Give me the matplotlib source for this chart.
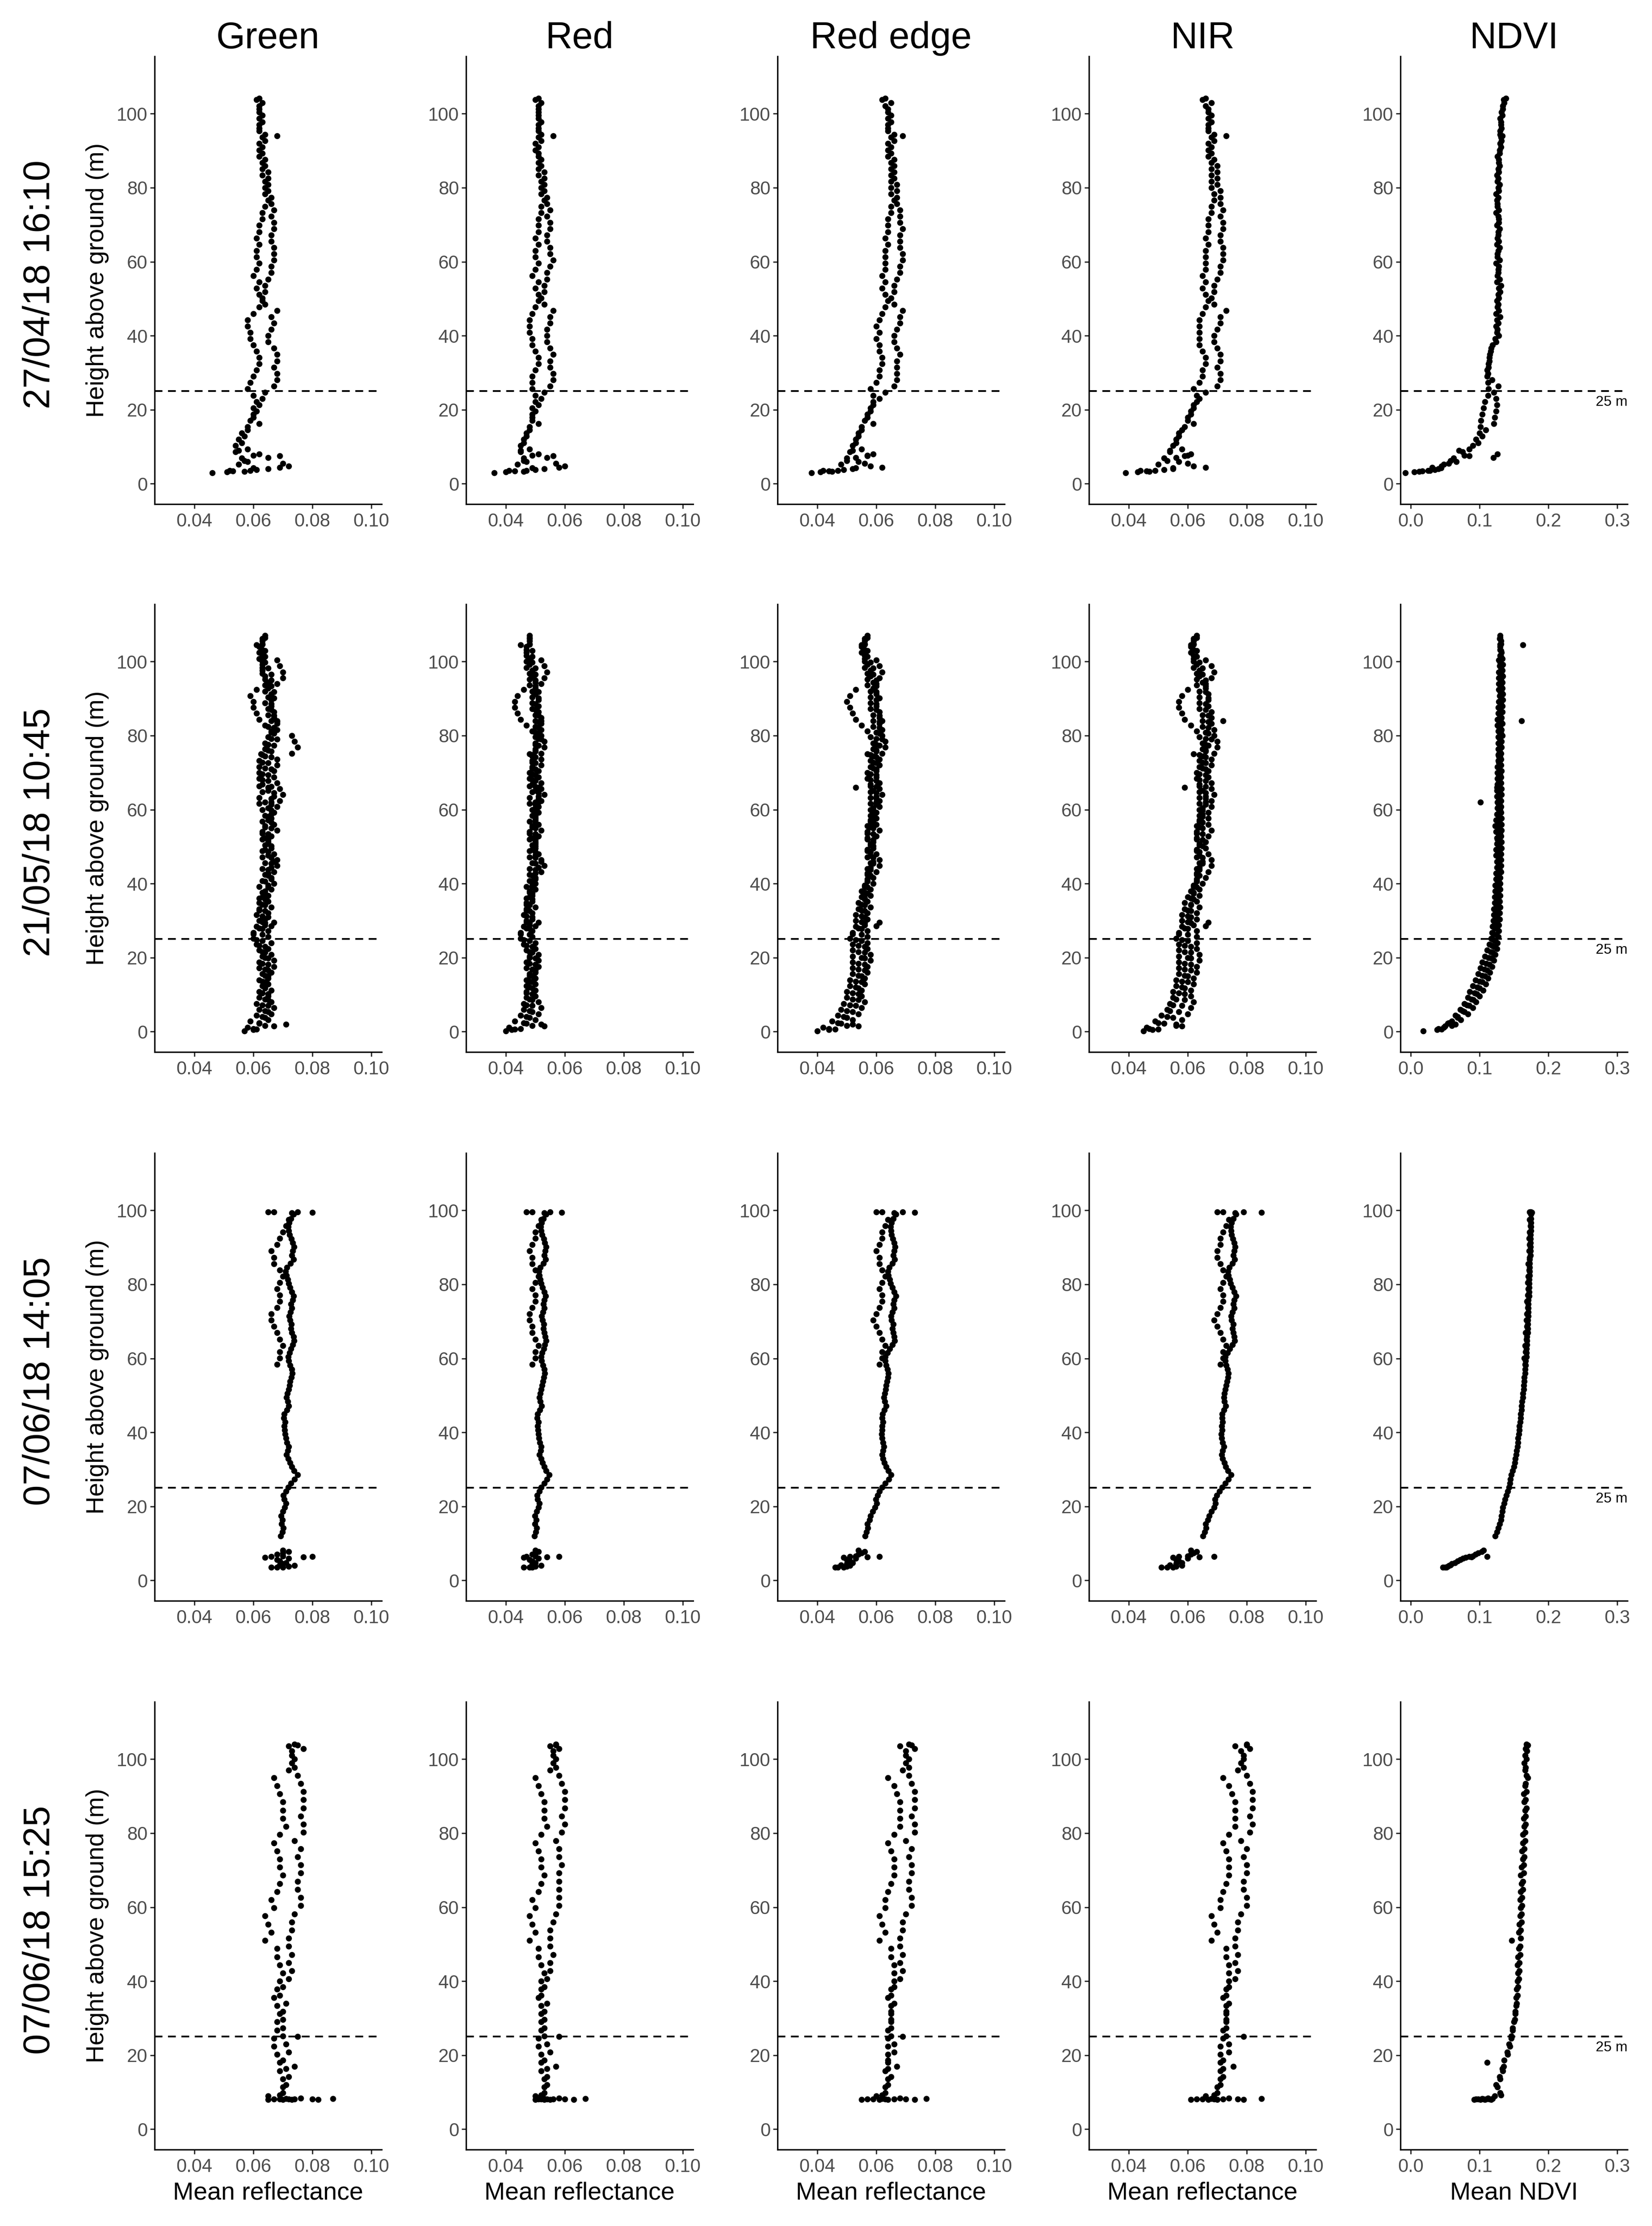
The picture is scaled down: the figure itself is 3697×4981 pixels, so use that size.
import matplotlib
matplotlib.use("Agg")
import matplotlib.pyplot as plt

plt.rcParams['font.family'] = ['Liberation Sans', 'DejaVu Sans']

# ---------------- labels / ticks ----------------
bands = ["Green", "Red", "Red edge", "NIR", "NDVI"]
flights = ["27/04/18 16:10", "21/05/18 10:45", "07/06/18 14:05", "07/06/18 15:25"]
x_labels = ["Mean reflectance", "Mean reflectance", "Mean reflectance", "Mean reflectance", "Mean NDVI"]
ref_ticks = [0.04, 0.06, 0.08, 0.10]
ref_ticklabels = ["0.04", "0.06", "0.08", "0.10"]
ndvi_ticks = [0.0, 0.1, 0.2, 0.3]
ndvi_ticklabels = ["0.0", "0.1", "0.2", "0.3"]
height_ticks = [0, 20, 40, 60, 80, 100]
threshold_height = 25
threshold_label = "25 m"

# ---------------- flight 1: 27/04/18 16:10 ----------------
h1 = [3.5, 5.2, 6.9, 8.6, 10.3, 12.0, 13.7, 15.4, 17.1, 18.8,
      20.5, 22.2, 23.9, 25.6, 27.3, 29.0, 30.7, 32.4, 34.1, 35.8,
      37.5, 39.2, 40.9, 42.6, 44.3, 46.0, 47.7, 49.4, 51.1, 52.8,
      54.5, 56.2, 57.9, 59.6, 61.3, 63.0, 64.7, 66.4, 68.1, 69.8,
      71.5, 73.2, 74.9, 76.6, 78.3, 80.0, 81.7, 83.4, 85.1, 86.8,
      88.5, 90.2, 91.9, 93.6, 95.3, 97.0, 98.7, 100.4, 102.1, 103.8,
      104.2, 102.9, 101.2, 99.5, 97.8, 96.1, 94.4, 92.7, 91.0, 89.3,
      87.6, 85.9, 84.2, 82.5, 80.8, 79.1, 77.4, 75.7, 74.0, 72.3,
      70.6, 68.9, 67.2, 65.5, 63.8, 62.1, 60.4, 58.7, 57.0, 55.3,
      53.6, 51.9, 50.2, 48.5, 46.8, 45.1, 43.4, 41.7, 40.0, 38.3,
      36.6, 34.9, 33.2, 31.5, 29.8, 28.1, 26.4, 24.7, 23.0, 21.3,
      19.6, 17.9, 16.2, 14.5, 12.8, 11.1, 9.4, 7.7, 6.0, 4.3,
      3.0, 3.2, 3.4, 3.6, 3.8, 4.1, 4.4, 4.8, 5.5, 6.2,
      7.0, 7.5, 8.0, 9.0, 3.3, 94.0]
green1 = [.052, .055, .056, .054, .054, .055, .056, .058, .059, .060,
          .060, .061, .060, .058, .059, .060, .061, .062, .062, .061,
          .060, .059, .059, .058, .058, .060, .062, .063, .062, .061,
          .062, .060, .061, .062, .061, .061, .062, .061, .062, .062,
          .063, .063, .064, .065, .064, .064, .064, .063, .063, .063,
          .062, .062, .062, .063, .062, .062, .062, .062, .062, .061,
          .062, .063, .062, .063, .063, .062, .064, .064, .063, .063,
          .064, .064, .065, .065, .065, .065, .066, .066, .067, .066,
          .067, .067, .066, .066, .067, .067, .067, .066, .066, .065,
          .064, .064, .063, .064, .068, .066, .067, .066, .065, .065,
          .067, .068, .068, .067, .068, .068, .067, .064, .063, .062,
          .061, .060, .062, .058, .057, .056, .058, .060, .058, .060,
          .046, .051, .053, .059, .061, .065, .069, .072, .070, .057,
          .065, .069, .062, .055, .057, .068]
red1 = [.041, .044, .046, .045, .045, .046, .047, .048, .049, .049,
        .049, .050, .050, .049, .049, .049, .050, .051, .051, .050,
        .049, .049, .048, .048, .048, .049, .050, .051, .051, .050,
        .051, .049, .050, .051, .050, .050, .051, .050, .051, .051,
        .051, .052, .052, .053, .052, .052, .052, .051, .051, .051,
        .051, .050, .050, .051, .051, .051, .051, .051, .051, .050,
        .051, .052, .051, .051, .052, .051, .052, .052, .051, .051,
        .052, .052, .053, .053, .053, .053, .054, .054, .055, .054,
        .055, .055, .054, .054, .055, .055, .056, .055, .054, .054,
        .053, .053, .052, .053, .056, .055, .055, .054, .054, .054,
        .055, .056, .055, .055, .056, .056, .055, .053, .052, .051,
        .050, .049, .051, .048, .047, .046, .048, .049, .047, .049,
        .036, .040, .043, .047, .050, .053, .058, .060, .057, .046,
        .054, .056, .051, .045, .046, .056]
rededge1 = [.042, .048, .050, .051, .052, .053, .054, .055, .056, .057,
            .058, .059, .059, .058, .060, .061, .061, .062, .062, .061,
            .061, .060, .061, .060, .061, .062, .063, .064, .063, .062,
            .063, .062, .063, .063, .063, .063, .064, .063, .064, .064,
            .064, .065, .065, .066, .065, .065, .065, .065, .065, .065,
            .064, .064, .064, .065, .064, .064, .064, .064, .063, .062,
            .063, .065, .064, .065, .065, .064, .066, .066, .065, .065,
            .066, .066, .066, .066, .067, .067, .067, .067, .068, .068,
            .068, .069, .068, .068, .068, .069, .069, .068, .068, .067,
            .066, .066, .065, .066, .069, .068, .068, .067, .066, .066,
            .067, .068, .067, .067, .067, .067, .066, .063, .061, .059,
            .058, .057, .059, .055, .054, .053, .055, .057, .054, .053,
            .038, .041, .044, .047, .049, .052, .062, .058, .056, .050,
            .053, .057, .059, .052, .045, .069]
nir1 = [.044, .050, .052, .054, .055, .056, .057, .059, .060, .061,
        .062, .063, .063, .062, .064, .065, .065, .066, .066, .065,
        .064, .064, .064, .064, .064, .065, .066, .067, .066, .065,
        .066, .065, .066, .066, .066, .066, .067, .066, .067, .067,
        .067, .068, .068, .069, .069, .068, .068, .068, .068, .068,
        .067, .067, .067, .068, .067, .067, .067, .067, .066, .065,
        .066, .068, .067, .068, .068, .067, .069, .069, .068, .068,
        .069, .070, .070, .070, .070, .071, .071, .071, .072, .071,
        .072, .072, .071, .071, .072, .072, .072, .071, .071, .070,
        .069, .069, .068, .069, .073, .071, .071, .070, .069, .069,
        .070, .071, .071, .070, .071, .071, .070, .066, .064, .062,
        .061, .060, .062, .058, .057, .056, .058, .060, .057, .055,
        .039, .043, .046, .049, .052, .055, .066, .062, .060, .053,
        .056, .059, .061, .054, .047, .073]
ndvi1 = [.025, .048, .062, .075, .090, .095, .100, .101, .102, .104,
         .106, .108, .112, .113, .112, .111, .111, .113, .114, .116,
         .119, .123, .125, .124, .125, .124, .126, .125, .127, .128,
         .125, .126, .127, .124, .126, .127, .125, .126, .127, .125,
         .128, .124, .126, .125, .124, .127, .126, .125, .127, .128,
         .126, .129, .130, .131, .130, .131, .130, .132, .134, .135,
         .138, .136, .134, .133, .131, .132, .130, .132, .131, .129,
         .128, .129, .128, .127, .129, .128, .127, .126, .128, .127,
         .128, .129, .127, .128, .129, .126, .129, .128, .127, .129,
         .131, .130, .128, .127, .128, .130, .127, .126, .128, .124,
         .117, .115, .114, .113, .112, .118, .127, .121, .124, .125,
         .124, .122, .121, .109, .104, .098, .085, .078, .066, .044,
         -.008, .005, .017, .028, .035, .040, .031, .045, .055, .058,
         .120, .085, .126, .070, .012, .133]

# ---------------- flight 2: 21/05/18 10:45 ----------------
h2 = [0.8, 2.4, 4.0, 5.6, 7.2, 8.8, 10.4, 12.0, 13.6, 15.2,
      16.8, 18.4, 20.0, 21.6, 23.2, 24.8, 26.4, 28.0, 29.6, 31.2,
      32.8, 34.4, 36.0, 37.6, 39.2, 40.8, 42.4, 44.0, 45.6, 47.2,
      48.8, 50.4, 52.0, 53.6, 55.2, 56.8, 58.4, 60.0, 61.6, 63.2,
      64.8, 66.4, 68.0, 69.6, 71.2, 72.8, 74.4, 76.0, 77.6, 79.2,
      80.8, 82.4, 84.0, 85.6, 87.2, 88.8, 90.4, 92.0, 93.6, 95.2,
      96.8, 98.4, 100.0, 101.6, 103.2, 104.8, 106.4,
      107.0, 105.6, 104.0, 102.4, 100.8, 99.2, 97.6, 96.0, 94.4, 92.8,
      91.2, 89.6, 88.0, 86.4, 84.8, 83.2, 81.6, 80.0, 78.4, 76.8,
      75.2, 73.6, 72.0, 70.4, 68.8, 67.2, 65.6, 64.0, 62.4, 60.8,
      59.2, 57.6, 56.0, 54.4, 52.8, 51.2, 49.6, 48.0, 46.4, 44.8,
      43.2, 41.6, 40.0, 38.4, 36.8, 35.2, 33.6, 32.0, 30.4, 28.8,
      27.2, 25.6, 24.0, 22.4, 20.8, 19.2, 17.6, 16.0, 14.4, 12.8,
      11.2, 9.6, 8.0, 6.4, 4.8, 3.2, 1.6,
      1.2, 2.8, 4.4, 6.0, 7.6, 9.2, 10.8, 12.4, 14.0, 15.6,
      17.2, 18.8, 20.4, 22.0, 23.6, 25.2, 26.8, 28.4, 30.0, 31.6,
      33.2, 34.8, 36.4, 38.0, 39.6, 41.2, 42.8, 44.4, 46.0, 47.6,
      49.2, 50.8, 52.4, 54.0, 55.6, 57.2, 58.8, 60.4, 62.0, 63.6,
      65.2, 66.8, 68.4, 70.0, 71.6, 73.2, 74.8, 76.4, 78.0, 79.6,
      81.2, 82.8, 84.4, 86.0, 87.6, 89.2, 90.8, 92.4, 94.0, 95.6,
      97.2, 98.8, 100.4,
      0.2, 0.5, 0.6, 1.5, 2.0, 75.0, 104.5, 84.0, 62.0, 66.0,
      28.5, 29.5,
      106.2, 104.6, 103.0, 101.4, 99.8, 98.2, 96.6, 95.0, 93.4, 91.8,
      90.2, 88.6, 87.0, 85.4, 83.8, 82.2, 80.6, 79.0, 77.4, 75.8,
      74.2, 72.6, 71.0, 69.4, 67.8, 66.2, 64.6, 63.0, 61.4, 59.8,
      58.2, 56.6, 55.0, 53.4, 51.8, 50.2, 48.6, 47.0, 45.4, 43.8,
      42.2, 40.6, 39.0, 37.4, 35.8, 34.2, 32.6, 31.0, 29.4, 27.8,
      26.2, 24.6, 23.0, 21.4, 19.8, 18.2, 16.6, 15.0, 13.4, 11.8,
      10.2, 8.6, 7.0, 5.4, 3.8, 2.2]
green2 = [.060, .062, .063, .064, .063, .064, .063, .064, .063, .064,
          .064, .063, .064, .063, .062, .061, .060, .062, .063, .063,
          .062, .063, .062, .063, .062, .063, .064, .063, .064, .063,
          .063, .064, .063, .063, .064, .063, .064, .063, .062, .062,
          .063, .062, .063, .063, .064, .063, .064, .065, .065, .066,
          .066, .065, .066, .065, .065, .064, .065, .064, .064, .064,
          .063, .063, .063, .063, .063, .063, .064,
          .064, .063, .062, .062, .062, .063, .063, .064, .065, .065,
          .066, .066, .066, .067, .067, .068, .068, .073, .074, .075,
          .073, .068, .068, .067, .067, .068, .069, .070, .069, .068,
          .067, .066, .067, .068, .066, .065, .066, .067, .068, .068,
          .067, .066, .067, .066, .065, .065, .066, .065, .064, .064,
          .065, .065, .066, .065, .066, .067, .067, .066, .065, .065,
          .066, .065, .066, .067, .066, .065, .064,
          .058, .059, .061, .062, .061, .062, .062, .063, .062, .063,
          .062, .062, .063, .062, .061, .060, .060, .061, .062, .061,
          .062, .062, .063, .064, .065, .066, .065, .066, .067, .065,
          .064, .065, .064, .063, .064, .065, .066, .065, .066, .067,
          .065, .063, .062, .062, .062, .062, .063, .064, .064, .065,
          .066, .064, .062, .061, .060, .060, .059, .061, .068, .070,
          .070, .069, .068,
          .057, .060, .061, .067, .071, .0625, .061, .068, .064, .065,
          .066, .067,
          .063, .063, .064, .064, .064, .065, .066, .066, .066, .067,
          .067, .066, .066, .067, .068, .067, .067, .068, .067, .066,
          .066, .065, .066, .065, .065, .066, .067, .066, .066, .066,
          .065, .066, .066, .065, .065, .066, .065, .066, .066, .065,
          .065, .064, .065, .064, .064, .064, .064, .065, .064, .063,
          .063, .063, .064, .064, .065, .065, .065, .065, .064, .064,
          .065, .065, .065, .065, .064, .062]
red2 = [.045, .046, .047, .048, .047, .048, .047, .048, .048, .048,
        .049, .048, .048, .048, .047, .046, .045, .047, .047, .047,
        .047, .047, .047, .048, .047, .048, .048, .048, .049, .048,
        .048, .049, .048, .048, .049, .048, .049, .049, .048, .048,
        .049, .048, .049, .049, .049, .049, .049, .050, .050, .051,
        .050, .050, .050, .050, .049, .049, .049, .049, .048, .048,
        .048, .047, .047, .047, .047, .048, .048,
        .048, .048, .047, .047, .048, .048, .049, .049, .050, .050,
        .050, .051, .051, .051, .052, .052, .052, .052, .053, .053,
        .052, .052, .052, .051, .051, .052, .052, .053, .052, .051,
        .051, .050, .051, .052, .051, .050, .050, .051, .052, .053,
        .052, .050, .050, .050, .049, .049, .050, .049, .049, .048,
        .049, .049, .050, .050, .051, .051, .051, .050, .050, .050,
        .050, .050, .051, .052, .051, .050, .049,
        .041, .043, .045, .046, .046, .047, .047, .047, .047, .048,
        .047, .047, .048, .047, .046, .045, .045, .046, .047, .046,
        .047, .047, .048, .048, .049, .050, .050, .051, .052, .050,
        .049, .050, .049, .048, .049, .050, .050, .050, .051, .051,
        .050, .049, .048, .048, .049, .049, .049, .050, .050, .050,
        .049, .047, .045, .044, .043, .043, .044, .046, .052, .053,
        .054, .053, .052,
        .040, .042, .043, .053, .052, .048, .045, .052, .050, .051,
        .050, .051,
        .048, .048, .049, .049, .049, .050, .050, .050, .050, .051,
        .051, .050, .050, .051, .051, .051, .051, .052, .051, .050,
        .050, .050, .050, .050, .050, .050, .051, .051, .050, .050,
        .050, .050, .050, .050, .050, .050, .050, .050, .050, .050,
        .049, .049, .049, .049, .049, .048, .048, .049, .048, .048,
        .048, .048, .049, .049, .050, .050, .050, .049, .049, .049,
        .049, .049, .049, .049, .048, .047]
rededge2 = [.044, .047, .049, .050, .051, .052, .052, .053, .053, .054,
            .054, .054, .055, .054, .054, .053, .052, .054, .055, .055,
            .055, .055, .056, .056, .056, .057, .057, .057, .058, .057,
            .057, .058, .057, .057, .058, .058, .058, .058, .058, .058,
            .058, .058, .058, .058, .059, .059, .059, .060, .060, .060,
            .060, .059, .059, .059, .058, .058, .058, .058, .057, .057,
            .057, .056, .056, .056, .056, .056, .057,
            .057, .056, .055, .055, .056, .057, .058, .058, .059, .059,
            .060, .060, .060, .061, .061, .061, .062, .062, .063, .063,
            .062, .061, .061, .060, .060, .061, .061, .062, .061, .061,
            .060, .060, .060, .061, .060, .059, .059, .060, .061, .061,
            .060, .059, .059, .058, .058, .057, .058, .057, .057, .056,
            .057, .057, .057, .057, .058, .058, .057, .057, .056, .056,
            .055, .055, .056, .055, .054, .052, .050,
            .042, .045, .047, .048, .049, .050, .050, .051, .051, .052,
            .052, .052, .052, .052, .052, .051, .052, .053, .053, .053,
            .054, .054, .055, .055, .056, .057, .057, .058, .059, .058,
            .057, .058, .057, .057, .057, .058, .059, .059, .060, .060,
            .059, .058, .057, .057, .058, .058, .058, .059, .059, .058,
            .057, .055, .053, .052, .051, .050, .051, .053, .060, .061,
            .062, .061, .060,
            .040, .044, .046, .054, .052, .057, .055, .062, .060, .053,
            .060, .061,
            .056, .056, .057, .057, .058, .059, .059, .060, .060, .060,
            .061, .060, .060, .061, .061, .061, .061, .062, .061, .060,
            .060, .060, .060, .060, .060, .060, .060, .060, .060, .059,
            .059, .059, .059, .059, .059, .059, .058, .059, .059, .058,
            .058, .057, .057, .057, .056, .056, .056, .056, .056, .055,
            .055, .055, .056, .056, .056, .056, .056, .055, .055, .054,
            .054, .054, .053, .052, .050, .048]
nir2 = [.047, .050, .053, .054, .055, .056, .057, .058, .058, .059,
        .059, .059, .060, .059, .059, .058, .057, .059, .060, .060,
        .060, .061, .061, .062, .062, .063, .063, .063, .064, .063,
        .063, .064, .063, .063, .064, .064, .064, .064, .064, .064,
        .064, .064, .064, .064, .065, .065, .065, .066, .066, .066,
        .066, .065, .065, .065, .064, .064, .064, .064, .063, .063,
        .063, .062, .062, .062, .062, .062, .063,
        .063, .062, .061, .061, .062, .063, .064, .064, .065, .066,
        .067, .067, .067, .068, .068, .068, .069, .069, .070, .070,
        .069, .068, .068, .067, .067, .068, .068, .069, .068, .068,
        .067, .067, .067, .068, .067, .066, .066, .067, .068, .068,
        .067, .066, .065, .064, .064, .063, .064, .063, .063, .062,
        .063, .063, .063, .063, .064, .064, .063, .063, .062, .062,
        .061, .061, .062, .061, .060, .058, .056,
        .046, .049, .051, .053, .054, .055, .055, .056, .056, .057,
        .057, .057, .057, .057, .057, .056, .057, .058, .058, .058,
        .059, .059, .060, .061, .062, .063, .063, .064, .065, .064,
        .063, .064, .063, .063, .063, .064, .065, .065, .066, .066,
        .065, .064, .063, .063, .064, .064, .064, .065, .065, .064,
        .063, .061, .059, .058, .057, .057, .058, .060, .066, .068,
        .069, .068, .066,
        .045, .048, .050, .058, .056, .062, .061, .072, .066, .059,
        .066, .067,
        .062, .062, .063, .063, .064, .065, .065, .066, .066, .066,
        .067, .066, .066, .067, .067, .067, .067, .068, .067, .066,
        .066, .066, .066, .066, .066, .066, .066, .066, .066, .065,
        .065, .065, .065, .065, .065, .065, .064, .065, .065, .064,
        .064, .063, .063, .062, .062, .061, .061, .061, .061, .060,
        .060, .060, .061, .061, .061, .061, .061, .060, .060, .059,
        .059, .059, .058, .057, .055, .052]
ndvi2 = [.040, .055, .068, .075, .082, .088, .093, .097, .100, .104,
         .107, .110, .113, .116, .118, .120, .121, .122, .123, .123,
         .124, .124, .125, .125, .126, .126, .126, .127, .127, .127,
         .126, .127, .126, .127, .128, .127, .128, .128, .127, .127,
         .128, .128, .127, .127, .128, .128, .128, .129, .129, .129,
         .129, .128, .128, .129, .129, .130, .131, .130, .130, .131,
         .130, .131, .130, .130, .130, .131, .130,
         .130, .131, .130, .132, .133, .134, .133, .134, .133, .133,
         .134, .134, .133, .133, .132, .133, .132, .133, .132, .132,
         .131, .131, .131, .132, .131, .131, .132, .132, .131, .131,
         .131, .132, .132, .132, .131, .132, .132, .131, .131, .131,
         .131, .130, .130, .130, .130, .129, .130, .129, .129, .128,
         .128, .127, .126, .125, .123, .121, .118, .115, .112, .109,
         .105, .100, .095, .090, .083, .073, .060,
         .048, .060, .065, .072, .078, .083, .086, .090, .094, .098,
         .101, .104, .108, .111, .114, .117, .118, .119, .120, .121,
         .121, .122, .122, .123, .123, .124, .124, .125, .125, .124,
         .124, .125, .125, .124, .123, .124, .125, .126, .126, .125,
         .125, .126, .126, .126, .126, .127, .127, .127, .127, .127,
         .127, .126, .126, .127, .127, .128, .129, .128, .128, .128,
         .128, .129, .128,
         .018, .038, .045, .050, .065, .128, .163, .161, .101, .125,
         .120, .122,
         .129, .130, .131, .131, .130, .131, .132, .131, .131, .132,
         .131, .131, .130, .130, .131, .130, .131, .130, .130, .129,
         .130, .129, .129, .130, .129, .129, .130, .129, .129, .130,
         .129, .129, .129, .130, .129, .129, .129, .129, .128, .129,
         .128, .128, .128, .127, .127, .127, .126, .126, .125, .125,
         .124, .123, .121, .119, .117, .114, .111, .108, .104, .100,
         .096, .091, .085, .078, .068, .054]

# ---------------- flight 3: 07/06/18 14:05 ----------------
h3 = [3.5, 3.5, 3.6, 3.8, 4.0, 4.2, 4.5, 4.8, 5.2, 5.6,
      6.0, 6.2, 6.4, 6.6, 7.0, 7.4, 7.8, 8.2, 6.3, 6.5,
      12.0, 13.1, 14.2, 15.3, 16.4, 17.5, 18.6, 19.7, 20.8, 21.9,
      23.0, 24.1, 25.2, 26.3, 27.4, 28.5, 29.6, 30.7, 31.8, 32.9,
      34.0, 35.1, 36.2, 37.3, 38.4, 39.5, 40.6, 41.7, 42.8, 43.9,
      45.0, 46.1, 47.2, 48.3, 49.4, 50.5, 51.6, 52.7, 53.8, 54.9,
      56.0, 57.1, 58.2, 59.3, 60.4, 61.5, 62.6, 63.7, 64.8, 65.9,
      67.0, 68.1, 69.2, 70.3, 71.4, 72.5, 73.6, 74.7, 75.8, 76.9,
      78.0, 79.1, 80.2, 81.3, 82.4, 83.5, 84.6, 85.7, 86.8, 87.9,
      89.0, 90.1, 91.2, 92.3, 93.4, 94.5, 95.6, 96.7, 97.8, 98.9,
      99.3, 97.5, 95.8, 94.1, 92.4, 90.7, 89.0, 87.3, 85.6, 83.9,
      82.2, 80.5, 78.8, 77.1, 75.4, 73.7, 72.0, 70.3, 68.6, 66.9,
      65.2, 63.5, 61.8, 60.1, 58.4,
      99.6, 99.6, 99.4, 99.5]
green3 = [.066, .068, .070, .072, .074, .069, .070, .071, .069, .068,
          .072, .064, .066, .070, .068, .070, .072, .070, .077, .080,
          .0692, .0698, .0701, .0695, .0699, .0694, .0700, .0706, .0710, .0704,
          .0702, .0710, .0718, .0728, .0740, .0750, .0738, .0730, .0724, .0718,
          .0712, .0716, .0719, .0714, .0710, .0708, .0706, .0704, .0707, .0703,
          .0705, .0713, .0720, .0716, .0712, .0715, .0719, .0722, .0725, .0729,
          .0732, .0730, .0724, .0720, .0718, .0722, .0728, .0733, .0738, .0736,
          .0731, .0727, .0729, .0724, .0721, .0726, .0731, .0728, .0733, .0737,
          .0731, .0724, .0719, .0716, .0712, .0709, .0714, .0726, .0736, .0731,
          .0734, .0738, .0733, .0729, .0723, .0720, .0718, .0721, .0728, .0737,
          .073, .072, .071, .070, .069, .068, .066, .067, .067, .069,
          .070, .069, .068, .069, .069, .068, .066, .066, .067, .068,
          .069, .070, .069, .069, .068,
          .065, .067, .080, .075]
red3 = [.046, .048, .049, .050, .052, .049, .049, .050, .049, .048,
        .051, .046, .047, .050, .049, .050, .051, .050, .054, .058,
        .0497, .0502, .0504, .0499, .0503, .0498, .0505, .0510, .0514, .0508,
        .0506, .0513, .0520, .0530, .0540, .0547, .0537, .0530, .0524, .0519,
        .0514, .0518, .0520, .0515, .0512, .0510, .0509, .0507, .0510, .0506,
        .0508, .0515, .0521, .0517, .0514, .0517, .0520, .0523, .0525, .0529,
        .0532, .0530, .0525, .0521, .0519, .0523, .0528, .0532, .0536, .0534,
        .0530, .0527, .0529, .0524, .0521, .0525, .0530, .0527, .0531, .0535,
        .0530, .0524, .0520, .0517, .0514, .0512, .0516, .0527, .0535, .0530,
        .0533, .0536, .0532, .0528, .0523, .0520, .0518, .0521, .0527, .0536,
        .053, .052, .051, .050, .050, .049, .048, .049, .049, .050,
        .051, .050, .049, .050, .050, .049, .048, .048, .049, .049,
        .050, .051, .050, .050, .049,
        .047, .049, .059, .055]
rededge3 = [.046, .047, .049, .050, .051, .048, .050, .052, .051, .050,
            .053, .049, .051, .053, .054, .055, .056, .054, .057, .061,
            .0562, .0567, .0571, .0570, .0577, .0580, .0588, .0596, .0601, .0599,
            .0604, .0611, .0620, .0631, .0642, .0650, .0641, .0633, .0628, .0622,
            .0619, .0622, .0626, .0622, .0619, .0618, .0620, .0619, .0622, .0620,
            .0621, .0627, .0633, .0629, .0626, .0629, .0632, .0634, .0636, .0639,
            .0641, .0638, .0633, .0630, .0631, .0638, .0646, .0654, .0662, .0660,
            .0657, .0654, .0657, .0652, .0650, .0655, .0660, .0657, .0661, .0666,
            .0660, .0654, .0649, .0645, .0641, .0639, .0644, .0654, .0662, .0658,
            .0661, .0664, .0660, .0656, .0652, .0650, .0649, .0652, .0658, .0667,
            .066, .064, .063, .062, .062, .061, .060, .061, .061, .062,
            .063, .062, .061, .062, .062, .061, .060, .059, .060, .061,
            .062, .063, .062, .062, .061,
            .060, .062, .073, .069]
nir3 = [.051, .053, .055, .056, .058, .054, .056, .058, .057, .056,
        .060, .055, .057, .060, .061, .062, .063, .061, .064, .069,
        .0652, .0658, .0662, .0661, .0668, .0672, .0680, .0689, .0694, .0693,
        .0699, .0707, .0716, .0727, .0738, .0747, .0737, .0729, .0724, .0718,
        .0715, .0718, .0722, .0718, .0715, .0714, .0716, .0715, .0718, .0716,
        .0717, .0723, .0729, .0725, .0722, .0725, .0728, .0730, .0733, .0736,
        .0738, .0735, .0730, .0727, .0728, .0735, .0743, .0751, .0759, .0757,
        .0754, .0751, .0754, .0749, .0747, .0752, .0757, .0754, .0758, .0763,
        .0757, .0751, .0746, .0742, .0738, .0736, .0741, .0751, .0759, .0755,
        .0758, .0761, .0757, .0753, .0749, .0747, .0746, .0749, .0755, .0764,
        .076, .074, .073, .072, .071, .071, .070, .070, .071, .072,
        .073, .072, .071, .072, .072, .071, .070, .069, .070, .071,
        .072, .073, .072, .072, .071,
        .070, .072, .085, .079]
ndvi3 = [.047, .052, .050, .054, .056, .058, .060, .064, .068, .072,
         .076, .080, .085, .090, .094, .098, .103, .106, .088, .111,
         .123, .125, .127, .129, .131, .132, .133, .134, .136, .137,
         .139, .141, .143, .144, .145, .146, .148, .150, .151, .152,
         .153, .154, .155, .156, .156, .157, .158, .158, .159, .160,
         .160, .161, .161, .162, .163, .163, .164, .164, .165, .165,
         .166, .166, .167, .167, .168, .168, .168, .169, .169, .169,
         .170, .170, .170, .170, .171, .171, .171, .171, .171, .172,
         .172, .172, .172, .172, .173, .173, .173, .173, .173, .174,
         .174, .174, .174, .174, .174, .175, .175, .175, .175, .175,
         .174, .173, .174, .173, .172, .173, .172, .173, .171, .172,
         .171, .170, .171, .170, .169, .170, .169, .168, .169, .167,
         .168, .166, .167, .165, .166,
         .173, .174, .176, .175]

# ---------------- flight 4: 07/06/18 15:25 ----------------
h4 = [95.0, 92.8, 90.6, 88.4, 86.2, 84.0, 81.8, 79.6, 77.4, 75.2,
      73.0, 70.8, 68.6, 66.4, 64.2, 62.0, 59.8, 57.6, 55.4, 53.2,
      51.0, 48.8, 46.6, 44.4, 42.2, 40.0, 37.8, 35.6, 33.4, 31.2,
      29.0, 26.8, 24.6, 22.4, 20.2, 18.0, 15.8, 13.6, 11.4, 9.2,
      9.8, 12.0, 14.2, 16.4, 18.6, 20.8, 23.0, 25.2, 27.4, 29.6,
      31.8, 34.0, 36.2, 38.4, 40.6, 42.8, 45.0, 47.2, 49.4, 51.6,
      53.8, 56.0, 58.2, 60.4, 62.6, 64.8, 67.0, 69.2, 71.4, 73.6,
      75.8, 78.0, 80.2, 82.4, 84.6, 86.8, 89.0, 91.2, 93.4, 95.6,
      97.8, 100.0, 102.2, 104.0,
      103.5, 102.8, 101.0, 99.0, 97.0, 103.8,
      8.0, 8.1, 8.2, 8.0, 8.3, 8.1, 8.0, 8.2, 8.4, 8.1, 8.0, 8.3, 9.0,
      25.0, 17.0]
green4 = [.067, .068, .069, .070, .070, .070, .071, .069, .067, .068,
          .069, .069, .070, .069, .068, .066, .067, .064, .065, .066,
          .064, .068, .068, .069, .070, .069, .068, .067, .068, .069,
          .068, .068, .067, .067, .068, .069, .069, .070, .070, .069,
          .070, .071, .072, .071, .070, .072, .071, .070, .070, .070,
          .070, .071, .069, .070, .072, .073, .072, .073, .072, .072,
          .073, .073, .074, .076, .076, .075, .075, .076, .076, .075,
          .076, .074, .077, .077, .076, .077, .077, .077, .076, .075,
          .074, .074, .073, .074,
          .072, .077, .073, .073, .072, .075,
          .065, .067, .069, .070, .071, .072, .073, .074, .076, .080, .082, .087, .065,
          .075, .074]
red4 = [.050, .051, .052, .053, .053, .053, .054, .052, .050, .051,
        .052, .052, .053, .052, .051, .049, .050, .048, .049, .050,
        .048, .051, .051, .052, .053, .052, .052, .051, .052, .052,
        .052, .052, .051, .051, .052, .052, .052, .053, .053, .052,
        .053, .054, .054, .054, .053, .055, .054, .053, .053, .053,
        .053, .054, .052, .053, .054, .055, .055, .056, .055, .055,
        .055, .056, .057, .058, .058, .058, .058, .058, .059, .058,
        .058, .057, .059, .060, .059, .060, .060, .060, .059, .058,
        .057, .057, .056, .057,
        .055, .058, .056, .056, .055, .057,
        .050, .051, .052, .053, .053, .054, .055, .056, .058, .060, .063, .067, .050,
        .058, .057]
rededge4 = [.064, .066, .067, .068, .068, .068, .068, .066, .064, .065,
            .066, .066, .066, .065, .064, .063, .063, .061, .062, .063,
            .061, .065, .065, .066, .066, .066, .065, .064, .065, .065,
            .065, .064, .064, .064, .064, .064, .063, .064, .063, .062,
            .063, .064, .065, .064, .064, .066, .066, .065, .065, .065,
            .065, .066, .065, .066, .068, .069, .068, .069, .068, .068,
            .069, .069, .070, .072, .072, .071, .071, .072, .072, .071,
            .072, .070, .073, .073, .072, .073, .073, .073, .072, .071,
            .071, .071, .070, .071,
            .068, .073, .070, .070, .069, .072,
            .055, .057, .059, .061, .062, .063, .064, .066, .068, .070, .073, .077, .060,
            .069, .067]
nir4 = [.072, .074, .075, .076, .076, .076, .076, .074, .072, .073,
        .074, .074, .074, .073, .072, .071, .071, .068, .069, .070,
        .068, .073, .073, .074, .074, .074, .073, .072, .073, .073,
        .073, .072, .072, .071, .071, .071, .071, .071, .070, .069,
        .070, .071, .072, .072, .072, .074, .074, .073, .073, .073,
        .073, .074, .073, .074, .076, .077, .076, .077, .076, .076,
        .077, .077, .078, .080, .080, .079, .079, .080, .080, .079,
        .080, .078, .081, .082, .081, .082, .082, .082, .081, .080,
        .079, .079, .078, .080,
        .076, .081, .079, .078, .077, .080,
        .061, .063, .065, .067, .068, .069, .070, .072, .074, .077, .079, .085, .066,
        .079, .0755]
ndvi4 = [.170, .166, .164, .165, .166, .164, .165, .163, .163, .162,
         .163, .161, .160, .161, .160, .159, .160, .159, .158, .157,
         .147, .157, .156, .155, .156, .155, .154, .153, .153, .152,
         .150, .148, .146, .144, .141, .111, .134, .130, .126, .131,
         .130, .124, .129, .133, .136, .140, .143, .146, .148, .151,
         .152, .154, .155, .156, .157, .158, .158, .159, .159, .160,
         .160, .161, .161, .162, .162, .163, .163, .164, .164, .165,
         .165, .166, .166, .167, .167, .168, .167, .168, .167, .168,
         .167, .168, .169, .168,
         .169, .167, .166, .165, .166, .170,
         .092, .095, .098, .101, .104, .106, .108, .110, .112, .114, .117, .119, .122,
         .147, .135]

rows = [
    (h1, [green1, red1, rededge1, nir1, ndvi1]),
    (h2, [green2, red2, rededge2, nir2, ndvi2]),
    (h3, [green3, red3, rededge3, nir3, ndvi3]),
    (h4, [green4, red4, rededge4, nir4, ndvi4]),
]

# ---------------- layout (pixels) ----------------
W, H = 3697, 4981
fig = plt.figure(figsize=(W / 100, H / 100), dpi=100)
fig.patch.set_facecolor("white")

col_left = [346, 1043, 1740, 2437, 3134]
row_top = [126, 1352, 2580, 3808]
ax_w, ax_h = 508, 1002

def fx(px):
    return px / W

def fy(py):
    return 1 - py / H

for r, (heights, values) in enumerate(rows):
    for c, band in enumerate(bands):
        ax = fig.add_axes([fx(col_left[c]), fy(row_top[r] + ax_h), ax_w / W, ax_h / H])
        ax.scatter(values[c], heights, s=95, c="black", linewidths=0, zorder=3)
        ax.axhline(threshold_height, color="black", lw=2.8, ls=(0, (4.5, 3.2)), zorder=2)
        ax.set_ylim(-5.5, 115.5)
        ax.set_yticks(height_ticks)
        ax.set_yticklabels([str(t) for t in height_ticks])
        if band == "NDVI":
            ax.set_xlim(-0.015, 0.315)
            ax.set_xticks(ndvi_ticks)
            ax.set_xticklabels(ndvi_ticklabels)
            ax.text(1.0, 22, threshold_label, transform=ax.get_yaxis_transform(),
                    ha="right", va="center", fontsize=23, color="black")
        else:
            ax.set_xlim(0.0265, 0.1035)
            ax.set_xticks(ref_ticks)
            ax.set_xticklabels(ref_ticklabels)
        for s in ["top", "right"]:
            ax.spines[s].set_visible(False)
        for s in ["left", "bottom"]:
            ax.spines[s].set_linewidth(2.3)
            ax.spines[s].set_color("black")
        ax.tick_params(axis="both", length=7, width=2.2, color="#333333",
                       labelsize=30, labelcolor="#4D4D4D")
        ax.tick_params(axis="x", pad=7)
        ax.tick_params(axis="y", pad=4)
        ax.set_facecolor("white")

        if r == 0:
            fig.text(fx(col_left[c] + ax_w / 2), fy(108), band, ha="center",
                     va="baseline", fontsize=60, color="black")
        if r == len(rows) - 1:
            fig.text(fx(col_left[c] + ax_w / 2), fy(4922), x_labels[c], ha="center",
                     va="baseline", fontsize=40, color="black")
    cy = row_top[r] + ax_h / 2
    fig.text(fx(89), fy(cy + 10), flights[r], rotation=90, ha="center",
             va="center", fontsize=60, color="black")
    fig.text(fx(218), fy(cy), "Height above ground (m)", rotation=90,
             ha="center", va="center", fontsize=40, color="black")

fig.savefig("out.png", dpi=100, facecolor="white")
